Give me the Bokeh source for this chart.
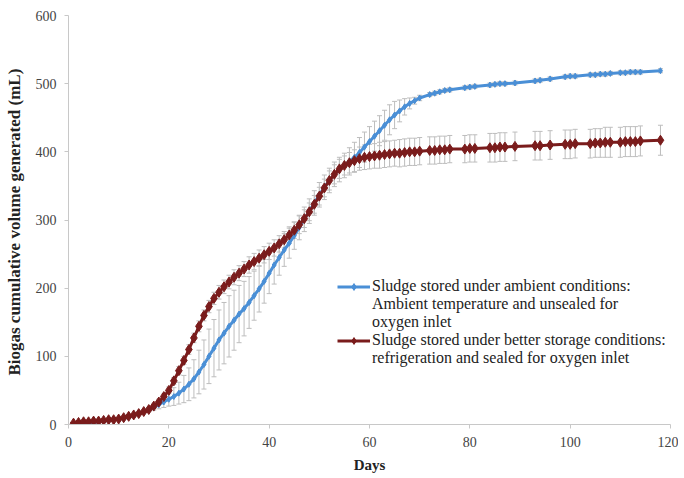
from bokeh.plotting import figure
from bokeh.models import ColumnDataSource, Whisker, TeeHead, Legend, LegendItem, Range1d, FixedTicker
from bokeh.embed import file_html
from bokeh.resources import INLINE

days = list(range(1, 71)) + [72, 73, 74, 75, 76, 79, 80, 81, 84, 85, 86, 87, 89, 93, 94, 96,
                             99, 100, 101, 104, 105, 106, 107, 108, 110, 111, 112, 113, 114, 118]

ambient = [1, 2, 2, 3, 3, 4, 5, 6, 7, 8, 9, 11, 13, 16, 19, 22, 25, 29, 33, 37,
           41, 46, 52, 59, 67, 77, 88, 100, 112, 124, 134, 144, 153, 162, 170, 179, 189, 199, 210, 222,
           234, 245, 256, 266, 277, 289, 301, 313, 325, 337, 348, 358, 367, 374, 380, 386, 392, 399, 407, 415,
           423, 431, 439, 447, 454, 460, 466, 471, 475, 479,
           484, 486, 488, 490, 491, 494, 495, 496, 498, 499, 500, 500, 501, 504, 505, 507,
           510, 511, 511, 513, 513, 514, 514, 515, 516, 516, 517, 517, 517, 519]

ambient_err = [1, 1, 1, 1, 1, 1, 1, 1, 1, 1, 1, 2, 2, 2, 2, 3, 4, 6, 8, 10,
               13, 16, 20, 24, 28, 32, 36, 40, 42, 44, 45, 45, 44, 42, 40, 38, 36, 34, 32, 30,
               28, 26, 24, 22, 20, 18, 18, 18, 18, 18, 18, 18, 18, 18, 18, 20, 22, 22, 22, 22,
               22, 22, 22, 22, 20, 16, 12, 8, 5, 4,
               3, 3, 3, 3, 3, 3, 3, 3, 3, 3, 3, 3, 3, 3, 3, 3,
               3, 3, 3, 3, 3, 3, 3, 3, 3, 3, 3, 3, 3, 3]

better = [2, 3, 4, 4, 5, 5, 6, 7, 7, 8, 10, 12, 14, 16, 19, 22, 27, 33, 41, 50,
          64, 79, 94, 110, 127, 144, 160, 173, 185, 194, 202, 209, 216, 222, 228, 234, 239, 244, 249, 254,
          259, 265, 271, 278, 285, 293, 302, 312, 323, 335, 347, 358, 367, 375, 380, 384, 387, 390, 392, 393,
          394, 395, 396, 397, 398, 398, 399, 400, 400, 401,
          402, 402, 403, 403, 404, 404, 405, 405, 406, 406, 407, 407, 408, 409, 409, 410,
          411, 411, 412, 412, 413, 413, 414, 414, 414, 415, 415, 415, 416, 417]

better_err = [1, 1, 1, 1, 1, 1, 1, 1, 1, 1, 1, 1, 1, 1, 1, 3, 3, 4, 4, 5,
              5, 6, 6, 7, 7, 8, 8, 9, 9, 10, 10, 10, 11, 11, 11, 12, 12, 12, 12, 12,
              12, 12, 12, 12, 12, 13, 13, 13, 13, 13, 13, 14, 14, 14, 14, 15, 16, 17, 18, 18,
              18, 19, 19, 19, 19, 20, 20, 20, 20, 20,
              20, 20, 20, 20, 20, 20, 20, 20, 21, 21, 21, 21, 21, 21, 21, 21,
              21, 21, 21, 21, 21, 21, 22, 22, 22, 22, 22, 22, 22, 22]

x_ticks = [0, 20, 40, 60, 80, 100, 120]
y_ticks = [0, 100, 200, 300, 400, 500, 600]

label_a = ["Sludge stored under ambient conditions:",
           "Ambient temperature and unsealed for",
           "oxygen inlet"]
label_b = ["Sludge stored under better storage conditions:",
           "refrigeration and sealed for oxygen inlet"]

src = ColumnDataSource(dict(
    x=days, a=ambient, b=better,
    a_lo=[v - e for v, e in zip(ambient, ambient_err)],
    a_hi=[v + e for v, e in zip(ambient, ambient_err)],
    b_lo=[v - e for v, e in zip(better, better_err)],
    b_hi=[v + e for v, e in zip(better, better_err)],
))

FONT = "Liberation Serif"
BLUE = "#4a8fd6"
RED = "#7a1c1c"
ERR = "#bdbdbd"

p = figure(width=678, height=478, output_backend="svg", toolbar_location=None,
           x_range=Range1d(0, 120), y_range=Range1d(0, 600),
           min_border_left=68, min_border_right=8, min_border_top=15, min_border_bottom=54)
p.outline_line_color = None
p.xgrid.visible = False
p.ygrid.visible = False

for lo, hi in (("a_lo", "a_hi"), ("b_lo", "b_hi")):
    w = Whisker(source=src, base="x", lower=lo, upper=hi, line_color=ERR, line_width=1,
                upper_head=TeeHead(size=5, line_color=ERR, line_width=1),
                lower_head=TeeHead(size=5, line_color=ERR, line_width=1))
    p.add_layout(w)

ra_l = p.line("x", "a", source=src, line_color=BLUE, line_width=3)
ra_m = p.scatter("x", "a", source=src, marker="diamond", size=6, fill_color=BLUE, line_color=BLUE)
rb_l = p.line("x", "b", source=src, line_color=RED, line_width=3)
rb_m = p.scatter("x", "b", source=src, marker="diamond", size=10, fill_color=RED, line_color=RED)

# invisible renderer used for continuation lines of multi-line legend labels
blank = p.line(x=[], y=[], line_alpha=0)

items = []
for lab_lines, rends in ((label_a, [ra_l, ra_m]), (label_b, [rb_l, rb_m])):
    for i, txt in enumerate(lab_lines):
        items.append(LegendItem(label=txt, renderers=rends if i == 0 else [blank]))

legend = Legend(items=items, location=(269, 57), padding=0, spacing=0, margin=0,
                glyph_width=33, glyph_height=17, label_height=17, label_standoff=2,
                label_text_font=FONT, label_text_font_size="16px", label_text_color="#222222",
                label_text_baseline="middle",
                border_line_color=None, background_fill_alpha=0)
p.add_layout(legend, "center")

for ax in (p.xaxis[0], p.yaxis[0]):
    ax.axis_line_color = "#c8c8c8"
    ax.major_tick_line_color = "#c8c8c8"
    ax.minor_tick_line_color = None
    ax.major_tick_in = 0
    ax.major_tick_out = 4
    ax.major_label_standoff = 8
    ax.major_label_text_font = FONT
    ax.major_label_text_font_size = "14px"
    ax.major_label_text_color = "#444444"
    ax.axis_label_text_font = FONT
    ax.axis_label_text_font_style = "bold"
    ax.axis_label_text_color = "#222222"

p.xaxis[0].axis_label_text_font_size = "15px"
p.yaxis[0].axis_label_text_font_size = "17px"
p.xaxis.ticker = FixedTicker(ticks=x_ticks)
p.yaxis.ticker = FixedTicker(ticks=y_ticks)
p.xaxis.axis_label = "Days"
p.yaxis.axis_label = "Biogas cumulative volume generated  (mL)"
p.xaxis.axis_label_standoff = 7
p.yaxis.axis_label_standoff = 9

open("out.html", "w").write(file_html(p, INLINE))
